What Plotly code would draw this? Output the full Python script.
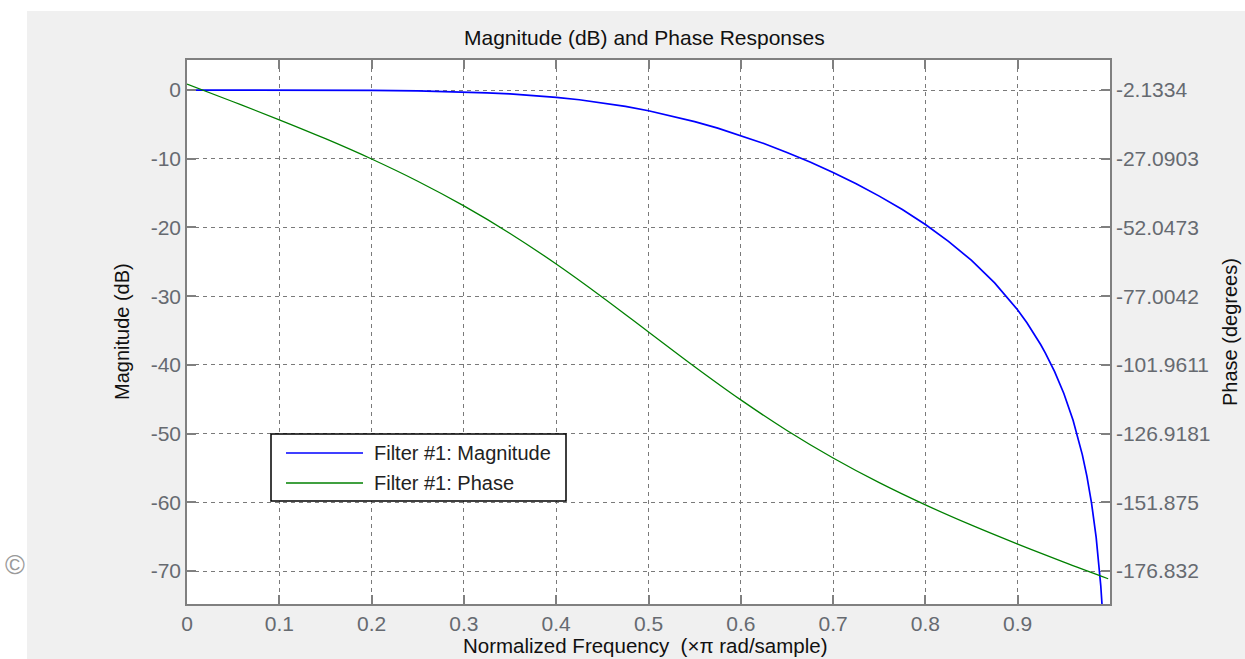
import plotly.graph_objects as go

# ---------------- data ----------------
freq_mag = [0.0, 0.05, 0.1, 0.15, 0.2, 0.25, 0.3, 0.325, 0.35, 0.375, 0.4, 0.425, 0.45,
            0.475, 0.5, 0.525, 0.55, 0.575, 0.6, 0.625, 0.65, 0.675, 0.7, 0.725, 0.75,
            0.775, 0.8, 0.825, 0.85, 0.875, 0.9, 0.91, 0.925, 0.93, 0.94, 0.95, 0.96,
            0.97, 0.975, 0.98, 0.985, 0.99, 0.9925]
magnitude_db = [0.0, 0.0, -0.003, -0.014, -0.048, -0.126, -0.283, -0.407, -0.573, -0.790,
                -1.07, -1.418, -1.853, -2.382, -3.01, -3.754, -4.59, -5.55, -6.62, -7.79,
                -9.08, -10.48, -12.0, -13.64, -15.44, -17.40, -19.58, -22.02, -24.80,
                -28.06, -32.0, -33.87, -37.07, -38.28, -40.98, -44.16, -48.05, -53.06,
                -56.23, -60.11, -65.11, -72.15, -77.2]

freq_phase = [0.0, 0.05, 0.1, 0.15, 0.2, 0.25, 0.3, 0.35, 0.4, 0.45, 0.5, 0.55, 0.6,
              0.65, 0.7, 0.75, 0.8, 0.85, 0.9, 0.95, 0.998]
phase_deg = [0.0, -6.39, -12.94, -19.81, -27.19, -35.26, -44.22, -54.22, -65.32, -77.37,
             -90.0, -102.63, -114.68, -125.78, -135.78, -144.74, -152.81, -160.19,
             -167.06, -173.61, -179.64]

x_ticks = [0, 0.1, 0.2, 0.3, 0.4, 0.5, 0.6, 0.7, 0.8, 0.9]
x_tick_text = ["0", "0.1", "0.2", "0.3", "0.4", "0.5", "0.6", "0.7", "0.8", "0.9"]
mag_ticks = [0, -10, -20, -30, -40, -50, -60, -70]
mag_tick_text = ["0", "-10", "-20", "-30", "-40", "-50", "-60", "-70"]
phase_ticks = [-2.1334, -27.0903, -52.0473, -77.0042, -101.9611, -126.9181, -151.875, -176.832]
phase_tick_text = ["-2.1334", "-27.0903", "-52.0473", "-77.0042", "-101.9611",
                   "-126.9181", "-151.875", "-176.832"]

series_names = ["Filter #1: Magnitude", "Filter #1: Phase"]
series_colors = ["#0000ff", "#008000"]

# ---------------- layout geometry ----------------
W, H = 1245, 659
L, R, T, B = 187, 1110, 60, 604
PW, PH = R - L, B - T


def px(x):
    return (x - L) / PW


def py(y):
    return (B - y) / PH


mag_range = [-74.8, 4.37]
slope = (phase_ticks[-1] - phase_ticks[0]) / (mag_ticks[-1] - mag_ticks[0])
phase_range = [phase_ticks[0] + slope * (v - mag_ticks[0]) for v in mag_range]

FONT = "Liberation Sans, Arial, sans-serif"
GRID = "#7a7a7a"
AXIS = "#808080"
TICKFONT = dict(family=FONT, size=21, color="#666a70")

fig = go.Figure()
fig.add_trace(go.Scatter(x=freq_mag, y=magnitude_db, mode="lines", name=series_names[0],
                         line=dict(color=series_colors[0], width=1.7), yaxis="y"))
fig.add_trace(go.Scatter(x=freq_phase, y=phase_deg, mode="lines", name=series_names[1],
                         line=dict(color=series_colors[1], width=1.3, shape="spline"),
                         yaxis="y2"))

fig.update_layout(
    width=W, height=H, autosize=False,
    margin=dict(l=L, r=W - R, t=T, b=H - B),
    paper_bgcolor="#f0f0f0", plot_bgcolor="#ffffff",
    showlegend=False,
    font=dict(family=FONT, size=20, color="#222222"),
    xaxis=dict(range=[0, 1], tickvals=x_ticks, ticktext=x_tick_text,
               showgrid=True, gridcolor=GRID, griddash="4px,4px", gridwidth=1,
               zeroline=False, showline=True, linecolor=AXIS, linewidth=1.5,
               mirror="ticks", ticks="inside", ticklen=9, tickcolor=AXIS, tickwidth=1.5,
               tickfont=TICKFONT),
    yaxis=dict(range=mag_range, tickvals=mag_ticks, ticktext=mag_tick_text,
               showgrid=True, gridcolor=GRID, griddash="4px,4px", gridwidth=1,
               zeroline=False, showline=True, linecolor=AXIS, linewidth=1.5,
               mirror="ticks", ticks="inside", ticklen=9, tickcolor=AXIS, tickwidth=1.5,
               tickfont=TICKFONT),
    yaxis2=dict(range=phase_range, tickvals=phase_ticks, ticktext=phase_tick_text,
                overlaying="y", side="right", showgrid=False, zeroline=False,
                showline=True, linecolor=AXIS, linewidth=1.5,
                ticks="inside", ticklen=9, tickcolor=AXIS, tickwidth=1.5,
                tickfont=TICKFONT),
)

shapes = [
    # white strips outside the gray panel
    dict(type="rect", xref="paper", yref="paper", x0=px(-50), x1=px(W + 50),
         y0=py(11), y1=py(-50), fillcolor="#ffffff", line=dict(width=0), layer="below"),
    dict(type="rect", xref="paper", yref="paper", x0=px(-50), x1=px(27),
         y0=py(H + 50), y1=py(-50), fillcolor="#ffffff", line=dict(width=0), layer="below"),
    # legend box
    dict(type="rect", xref="paper", yref="paper", x0=px(271), x1=px(566),
         y0=py(501), y1=py(434), fillcolor="#ffffff", line=dict(color="#000000", width=1.5),
         layer="above"),
    dict(type="line", xref="paper", yref="paper", x0=px(286), x1=px(363),
         y0=py(453), y1=py(453), line=dict(color=series_colors[0], width=1.7), layer="above"),
    dict(type="line", xref="paper", yref="paper", x0=px(286), x1=px(363),
         y0=py(483), y1=py(483), line=dict(color=series_colors[1], width=1.3), layer="above"),
]
fig.update_layout(shapes=shapes)

annotations = [
    dict(text="Magnitude (dB) and Phase Responses", x=px(644), y=py(37), xref="paper",
         yref="paper", xanchor="center", yanchor="middle", showarrow=False,
         font=dict(family=FONT, size=21, color="#111111")),
    dict(text="Normalized Frequency  (\u00d7\u03c0 rad/sample)", x=px(645), y=py(645),
         xref="paper", yref="paper", xanchor="center", yanchor="middle", showarrow=False,
         font=dict(family=FONT, size=20.5, color="#111111")),
    dict(text="Magnitude (dB)", x=px(122), y=py(332), xref="paper", yref="paper",
         xanchor="center", yanchor="middle", textangle=-90, showarrow=False,
         font=dict(family=FONT, size=20, color="#111111")),
    dict(text="Phase (degrees)", x=px(1230), y=py(332), xref="paper", yref="paper",
         xanchor="center", yanchor="middle", textangle=-90, showarrow=False,
         font=dict(family=FONT, size=20, color="#111111")),
    dict(text=series_names[0], x=px(372), y=py(453), xref="paper", yref="paper",
         xanchor="left", yanchor="middle", showarrow=False,
         font=dict(family=FONT, size=20, color="#222222")),
    dict(text=series_names[1], x=px(372), y=py(483), xref="paper", yref="paper",
         xanchor="left", yanchor="middle", showarrow=False,
         font=dict(family=FONT, size=20, color="#222222")),
    dict(text="\u00a9", x=px(15), y=py(565), xref="paper", yref="paper",
         xanchor="center", yanchor="middle", showarrow=False,
         font=dict(family=FONT, size=27, color="#9a9a9a")),
]
fig.update_layout(annotations=annotations)

fig.write_html("out.html")
